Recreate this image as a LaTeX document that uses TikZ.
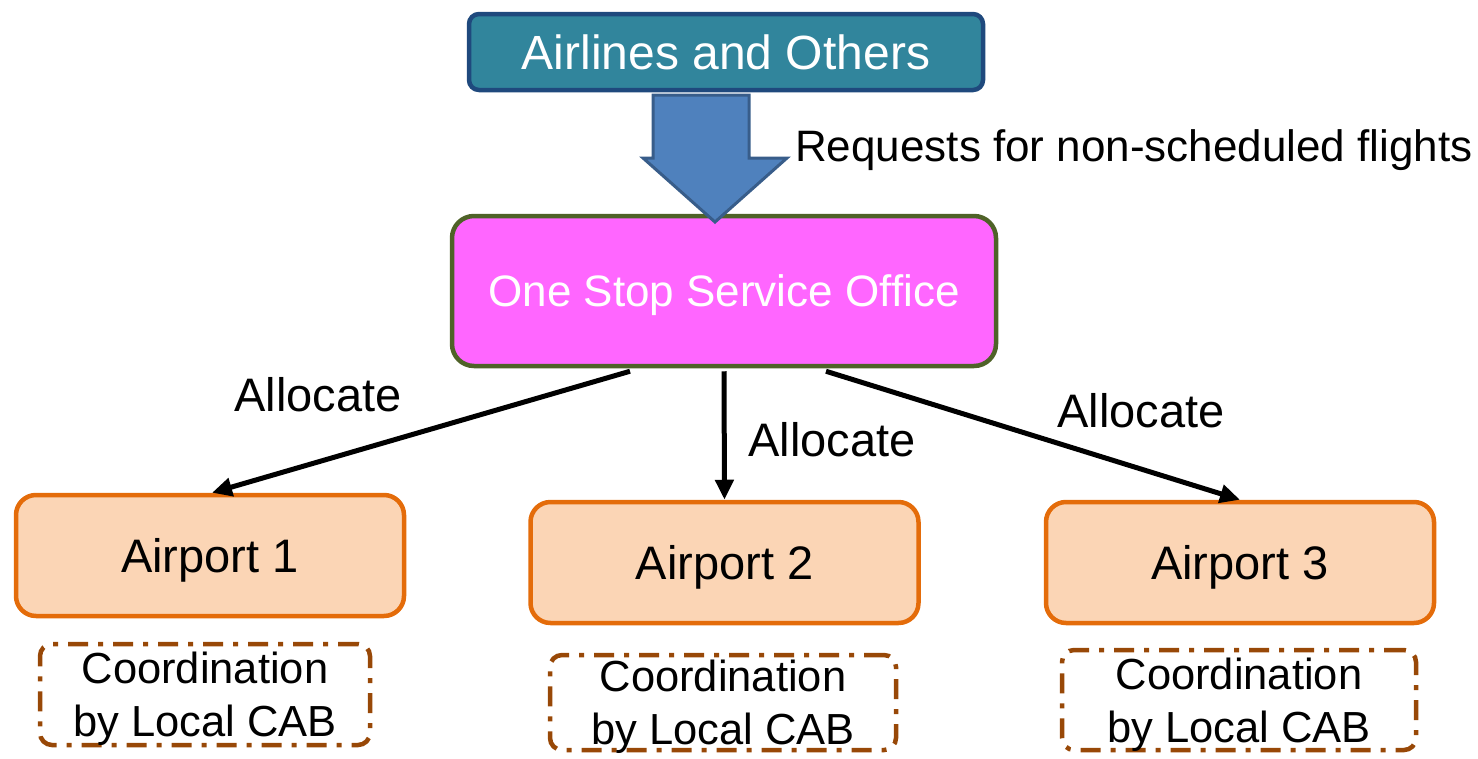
\documentclass[tikz,border=0pt]{standalone}
\usepackage{fontspec}
\setmainfont{Liberation Sans}
\usetikzlibrary{arrows.meta}
\definecolor{teal1}{HTML}{31859C}
\definecolor{navy1}{HTML}{1F497D}
\definecolor{blue1}{HTML}{4F81BD}
\definecolor{blue2}{HTML}{385D8A}
\definecolor{mag1}{HTML}{FF66FF}
\definecolor{olive1}{HTML}{4F6228}
\definecolor{peach1}{HTML}{FBD5B5}
\definecolor{orange1}{HTML}{E46C0A}
\definecolor{brown1}{HTML}{984807}
\tikzset{
  topbox/.style={draw=navy1,fill=teal1,line width=4.5pt,rounded corners=10pt,minimum width=514pt,minimum height=76pt,text=white,font=\fontsize{48}{52}\selectfont,inner sep=0pt,text depth=0pt},
  officebox/.style={draw=olive1,fill=mag1,line width=4.5pt,rounded corners=22pt,minimum width=544pt,minimum height=150pt,text=white,font=\fontsize{44}{48}\selectfont,inner sep=0pt,text depth=0pt},
  airbox/.style={draw=orange1,fill=peach1,line width=4.5pt,rounded corners=20pt,minimum width=388pt,minimum height=121pt,font=\fontsize{47}{50}\selectfont,inner sep=0pt,text depth=0pt},
  cabbox/.style={draw=brown1,line width=4.5pt,rounded corners=12pt,dash pattern=on 20pt off 10pt on 5pt off 10pt,align=center,font=\fontsize{43.5}{53}\selectfont,inner sep=0pt,text depth=0pt},
  lbl/.style={font=\fontsize{47}{50}\selectfont,inner sep=0pt},
  conn/.style={line width=5pt,-{Triangle[length=20pt,width=18pt]}},
}
\begin{document}
\begin{tikzpicture}[x=1pt,y=-1pt]
\useasboundingbox (0,0) rectangle (1478,758);
\node[topbox] (airl) at (726,52) {Airlines and Others};
\node[officebox] (office) at (724,291) {One Stop Service Office};
% block arrow
\draw[draw=blue2,fill=blue1,line width=3pt,line join=miter]
  (653,95) -- (749,95) -- (749,158) -- (787,158) -- (715,222) -- (643,158) -- (653,158) -- cycle;
\node[font=\fontsize{44}{48}\selectfont,inner sep=0pt,anchor=west] (req) at (795,150) {Requests for non-scheduled flights};
\node[airbox] (ap1) at (210,555.5) {Airport 1};
\node[airbox] (ap2) at (724.5,562.5) {Airport 2};
\node[airbox] (ap3) at (1240,562.5) {Airport 3};
\node[cabbox,minimum width=330pt,minimum height=101pt] (cab1) at (205,694.5) {Coordination\\by Local CAB};
\node[cabbox,minimum width=346pt,minimum height=95pt] (cab2) at (723,702.5) {Coordination\\by Local CAB};
\node[cabbox,minimum width=354pt,minimum height=100pt] (cab3) at (1239,700) {Coordination\\by Local CAB};
\draw[conn] ([xshift=-94pt,yshift=-3pt]office.south) -- ([xshift=2pt]ap1.north);
\draw[conn] ([yshift=-3pt]office.south) -- (ap2.north);
\draw[conn] ([xshift=102pt,yshift=-3pt]office.south) -- (ap3.north);
\node[lbl] (l1) at (318,395) {Allocate};
\node[lbl] (l2) at (832,440) {Allocate};
\node[lbl] (l3) at (1141,411) {Allocate};
\end{tikzpicture}
\end{document}
